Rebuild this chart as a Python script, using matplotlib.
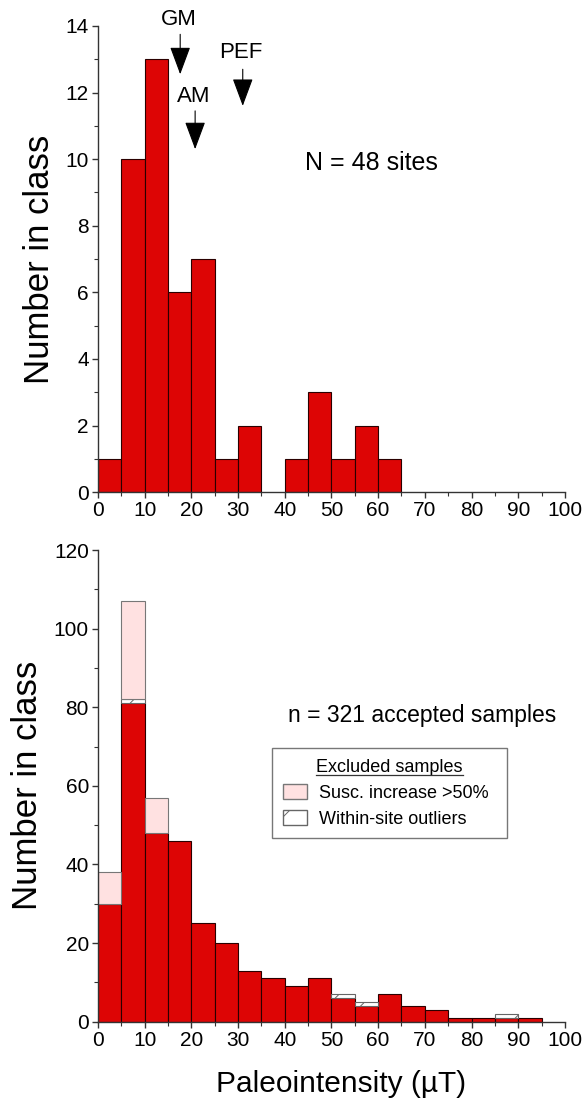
import matplotlib
matplotlib.use("Agg")
import matplotlib.pyplot as plt
from matplotlib.patches import Patch
from matplotlib.lines import Line2D
import numpy as np

plt.rcParams['font.family'] = ['Liberation Sans', 'DejaVu Sans']
plt.rcParams['hatch.color'] = '#666666'
plt.rcParams['hatch.linewidth'] = 0.7

# Paleointensity bins (5 uT wide), left edges
site_bins = np.arange(0, 65, 5)
site_counts = np.array([1, 10, 13, 6, 7, 1, 2, 0, 1, 3, 1, 2, 1])

sample_bins = np.arange(0, 95, 5)
accepted = np.array([30, 81, 48, 46, 25, 20, 13, 11, 9, 11, 6, 4, 7, 4, 3, 1, 1, 1, 1])
outliers = np.array([0, 1, 0, 0, 0, 0, 0, 0, 0, 0, 1, 1, 0, 0, 0, 0, 0, 1, 0])
susc_increase = np.array([8, 25, 9, 0, 0, 0, 0, 0, 0, 0, 0, 0, 0, 0, 0, 0, 0, 0, 0])

# reference field markers: label, value, label height, arrow top, arrow tip
markers = [("GM", 17.6, 14.18, 13.75, 12.55),
           ("AM", 20.8, 11.87, 11.45, 10.3),
           ("PEF", 31.0, 13.2, 12.7, 11.6)]

red = "#dd0505"
pink = "#ffe1e1"

fig = plt.figure(figsize=(5.88, 11.06), dpi=100)
ax1 = fig.add_axes([0.1667, 0.555, 0.794, 0.4215])
ax2 = fig.add_axes([0.1667, 0.0762, 0.794, 0.4265])


def style(ax, ymax, ystep):
    ax.set_xlim(0, 100)
    ax.set_ylim(0, ymax)
    ax.spines['top'].set_visible(False)
    ax.spines['right'].set_visible(False)
    for s in ('left', 'bottom'):
        ax.spines[s].set_color('#333333')
        ax.spines[s].set_linewidth(1.0)
    ax.set_xticks(np.arange(0, 101, 10))
    ax.set_xticks(np.arange(5, 100, 10), minor=True)
    ax.set_yticks(np.arange(0, ymax + 1, ystep))
    ax.set_yticks(np.arange(ystep / 2, ymax, ystep), minor=True)
    ax.tick_params(which='major', direction='out', length=4.5, width=1.0,
                   color='#333333', labelsize=15, pad=2)
    ax.tick_params(which='minor', direction='out', length=3, width=0.8,
                   color='#333333')
    ax.set_ylabel("Number in class", fontsize=25, labelpad=7)


# top panel: sites
m = site_counts > 0
ax1.bar(site_bins[m], site_counts[m], width=5, align='edge', color=red,
        edgecolor='#2a0000', linewidth=0.8)
style(ax1, 14, 2)
ax1.text(58.5, 9.9, "N = 48 sites", fontsize=18, ha='center', va='center')
for name, xv, ty, y0, y1 in markers:
    ax1.text(xv - 0.4, ty, name, fontsize=16, ha='center', va='center')
    ax1.annotate("", xy=(xv, y1), xytext=(xv, y0),
                 arrowprops=dict(arrowstyle='-|>,head_length=1.75,head_width=0.65',
                                 mutation_scale=10, lw=0.8, fc='k', ec='k',
                                 shrinkA=0, shrinkB=0))

# bottom panel: samples
ax2.bar(sample_bins, accepted, width=5, align='edge', color=red,
        edgecolor='#2a0000', linewidth=0.8, zorder=2)
m = outliers > 0
ax2.bar(sample_bins[m], outliers[m], bottom=accepted[m], width=5, align='edge',
        color='white', edgecolor='#666666', linewidth=0.8, hatch='/', zorder=2)
m = susc_increase > 0
ax2.bar(sample_bins[m], susc_increase[m], bottom=(accepted + outliers)[m],
        width=5, align='edge', color=pink, edgecolor='#777777', linewidth=0.8,
        zorder=2)
style(ax2, 120, 20)
ax2.set_xlabel("Paleointensity (\u00b5T)", fontsize=21.5)
ax2.xaxis.set_label_coords(0.52, -0.103)
ax2.text(69.4, 77.8, "n = 321 accepted samples", fontsize=16.5,
         ha='center', va='center')

handles = [Patch(facecolor=pink, edgecolor='#777777', label="Susc. increase >50%"),
           Patch(facecolor='white', edgecolor='#666666', hatch='/',
                 label="Within-site outliers")]
leg = ax2.legend(handles=handles, title="Excluded samples", fontsize=13,
                 title_fontsize=13, loc='upper left',
                 bbox_to_anchor=(0.372, 0.392, 0.504, 0.188), mode='expand',
                 borderaxespad=0, fancybox=False, framealpha=1,
                 edgecolor='#777777', handlelength=1.35, handleheight=0.9,
                 handletextpad=0.65, labelspacing=0.45, borderpad=0.6)
leg.get_frame().set_linewidth(1.0)

# underline the legend title
fig.canvas.draw()
bb = leg.get_title().get_window_extent().transformed(fig.transFigure.inverted())
fig.add_artist(Line2D([bb.x0, bb.x1], [bb.y0 + 0.001, bb.y0 + 0.001],
                      color='#333333', lw=0.9, transform=fig.transFigure))

fig.savefig("out.png", dpi=100)
